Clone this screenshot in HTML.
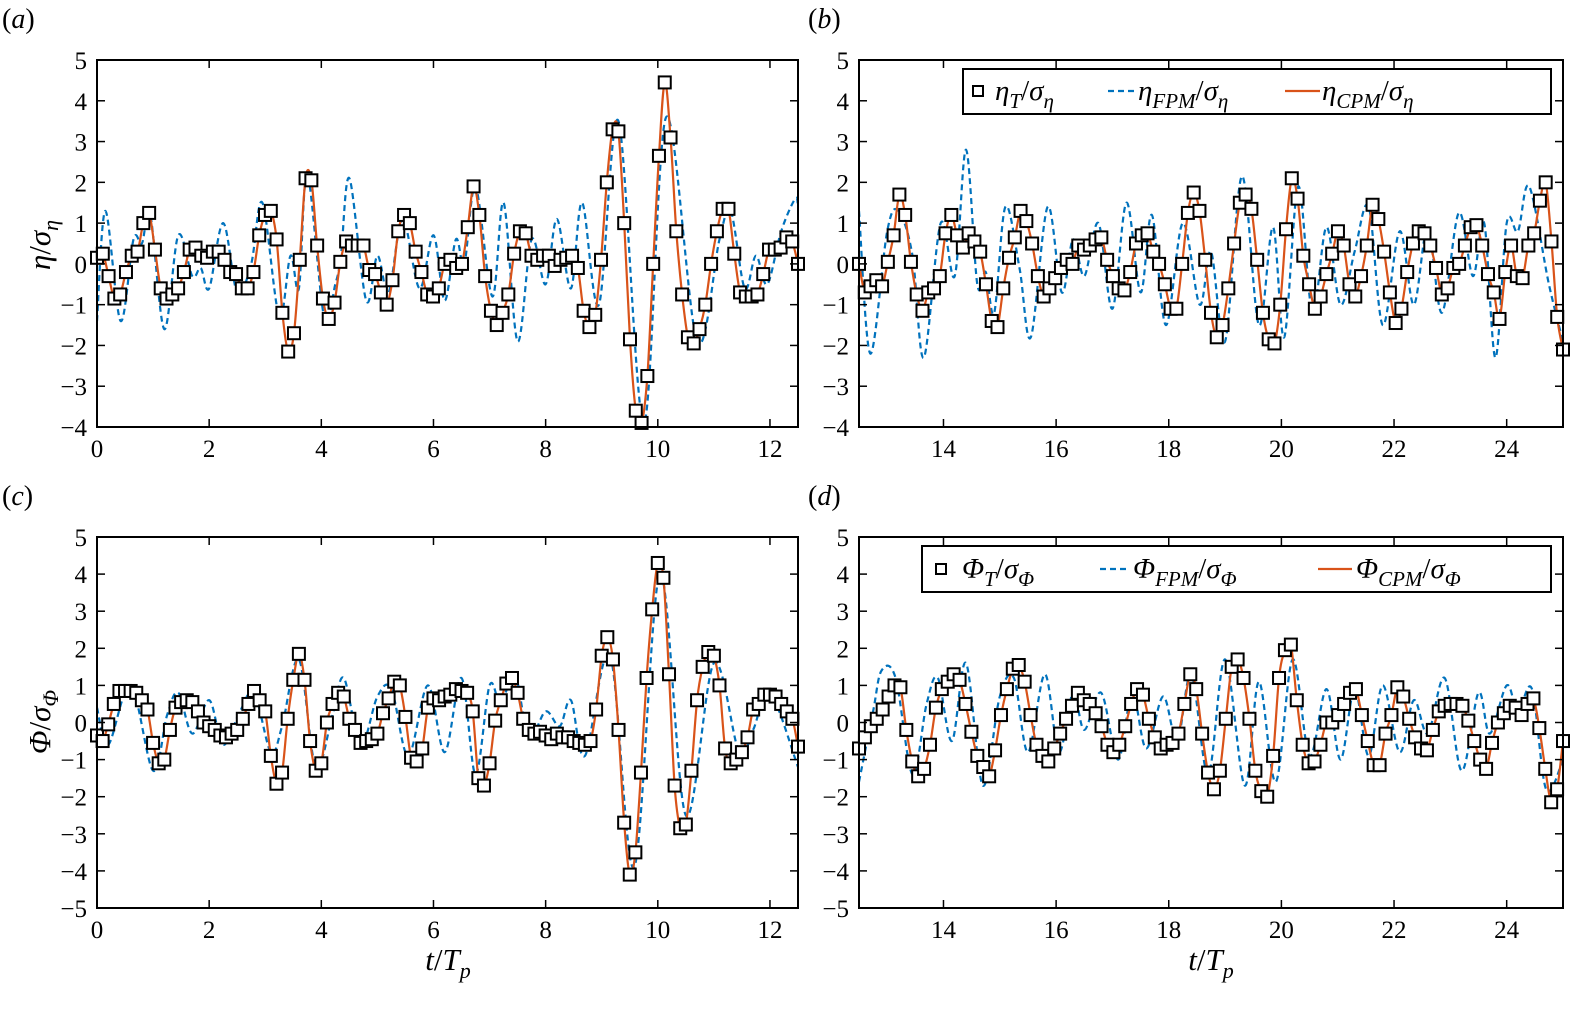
<!DOCTYPE html>
<html><head><meta charset="utf-8"><style>
body{margin:0;background:#fff}
svg{display:block}
text{font-family:"Liberation Serif","Times New Roman",serif}
</style></head><body>
<svg id="fig" width="1581" height="1011" viewBox="0 0 1581 1011" xmlns="http://www.w3.org/2000/svg" style="position:absolute;left:0;top:0"></svg>
<script>
// ---- data ----
const aSquares=[0.15,0.25,-0.3,-0.85,-0.75,-0.2,0.2,0.3,1.0,1.25,0.35,-0.6,-0.85,-0.75,-0.6,-0.2,0.35,0.4,0.2,0.15,0.3,0.3,0.1,-0.2,-0.25,-0.6,-0.6,-0.2,0.7,1.2,1.3,0.6,-1.2,-2.15,-1.7,0.1,2.1,2.05,0.45,-0.85,-1.35,-0.95,0.05,0.55,0.45,0.45,0.45,-0.15,-0.25,-0.7,-1.0,-0.4,0.8,1.2,1.0,0.3,-0.2,-0.75,-0.8,-0.6,0.0,0.1,-0.1,0.0,0.9,1.9,1.2,-0.3,-1.15,-1.5,-1.2,-0.75,0.25,0.8,0.75,0.2,0.1,0.2,0.2,-0.05,0.1,0.15,0.2,-0.1,-1.15,-1.55,-1.25,0.1,2.0,3.3,3.25,1.0,-1.85,-3.6,-3.9,-2.75,0.0,2.65,4.45,3.1,0.8,-0.75,-1.8,-1.95,-1.6,-1.0,0.0,0.8,1.35,1.35,0.25,-0.7,-0.8,-0.8,-0.75,-0.25,0.35,0.35,0.4,0.65,0.55,0.0];
const aFpmT=[0,0.15,0.42,0.65,0.8,0.95,1.2,1.45,1.7,1.85,2.0,2.25,2.5,2.75,2.95,3.25,3.45,3.6,3.75,4.05,4.25,4.35,4.5,4.8,5.0,5.2,5.45,5.75,6.0,6.2,6.4,6.55,6.75,7.05,7.25,7.5,7.75,8.0,8.2,8.45,8.65,8.95,9.3,9.75,10.15,10.7,11.1,11.3,11.55,11.75,11.95,12.2,12.45,12.5];
const aFpmV=[-1.4,1.3,-1.4,0.6,0.5,1.2,-1.6,0.7,-0.3,-0.1,-0.6,1.0,-0.7,0.0,1.5,-1.3,0.2,-0.6,2.2,-1.3,-0.5,0.2,2.1,-0.9,0.2,-0.7,1.1,-0.6,0.7,-0.9,0.6,0.0,1.9,-0.8,1.5,-1.9,0.6,-0.5,1.1,-0.6,1.5,-1.0,3.5,-3.9,3.6,-1.9,0.6,1.3,-0.6,0.2,-0.5,0.8,1.6,1.4];

const bSquares=[0.0,-0.7,-0.55,-0.4,-0.55,0.05,0.7,1.7,1.2,0.05,-0.75,-1.15,-0.7,-0.6,-0.3,0.75,1.2,0.7,0.4,0.75,0.55,0.3,-0.5,-1.4,-1.55,-0.6,0.15,0.65,1.3,1.05,0.5,-0.3,-0.8,-0.6,-0.35,-0.1,0.1,0.0,0.45,0.35,0.45,0.6,0.65,0.1,-0.3,-0.6,-0.65,-0.2,0.5,0.7,0.75,0.3,0.0,-0.5,-1.1,-1.1,0.0,1.25,1.75,1.3,0.1,-1.2,-1.8,-1.5,-0.6,0.5,1.5,1.7,1.35,0.1,-1.2,-1.85,-1.95,-1.0,0.85,2.1,1.6,0.2,-0.5,-1.1,-0.8,-0.25,0.25,0.8,0.45,-0.5,-0.8,-0.3,0.45,1.45,1.1,0.3,-0.7,-1.45,-1.1,-0.2,0.5,0.8,0.75,0.45,-0.1,-0.75,-0.6,-0.1,0.0,0.45,0.9,0.95,0.45,-0.25,-0.7,-1.35,-0.2,0.45,-0.3,-0.35,0.45,0.75,1.55,2.0,0.55,-1.3,-2.1];
const bFpmT=[12.5,12.7,13.0,13.2,13.45,13.65,13.95,14.2,14.4,14.6,14.75,14.9,15.1,15.35,15.55,15.85,16.1,16.3,16.5,16.75,17.0,17.25,17.5,17.7,17.95,18.25,18.55,18.75,19.0,19.3,19.6,19.85,20.05,20.3,20.55,20.8,21.05,21.3,21.55,21.8,22.1,22.35,22.6,22.85,23.15,23.4,23.6,23.8,24.0,24.2,24.4,24.75,25];
const bFpmV=[1.3,-2.2,0.8,1.3,0.2,-2.3,1.0,-0.3,2.8,-0.5,-0.2,-1.2,1.4,-0.1,-1.8,1.4,-0.7,0.6,-0.3,1.0,-1.1,1.5,-0.7,1.2,-1.5,1.0,-1.0,0.3,-1.9,2.15,-1.5,0.9,-1.8,1.9,-1.2,0.9,-1.0,0.3,1.4,-1.5,0.8,-1.0,0.9,-1.2,1.25,-0.3,1.0,-2.3,1.0,0.8,1.9,-0.5,-1.9];

const cSquares=[-0.35,-0.5,-0.05,0.5,0.85,0.85,0.85,0.8,0.6,0.35,-0.55,-1.1,-1.0,-0.2,0.4,0.55,0.6,0.55,0.3,0.0,-0.1,-0.2,-0.35,-0.4,-0.3,-0.2,0.1,0.5,0.85,0.6,0.3,-0.9,-1.65,-1.35,0.1,1.15,1.85,1.15,-0.5,-1.3,-1.1,0.0,0.5,0.8,0.7,0.1,-0.2,-0.55,-0.5,-0.45,-0.3,0.25,0.65,1.1,1.0,0.15,-0.95,-1.05,-0.7,0.4,0.65,0.6,0.7,0.75,0.9,0.85,0.8,0.3,-1.5,-1.7,-1.1,0.05,0.6,1.05,1.2,0.8,0.1,-0.2,-0.3,-0.25,-0.35,-0.45,-0.3,-0.4,-0.4,-0.5,-0.55,-0.6,-0.5,0.35,1.8,2.3,1.7,-0.2,-2.7,-4.1,-3.5,-1.35,1.2,3.05,4.3,3.9,1.3,-1.7,-2.85,-2.75,-1.3,0.6,1.5,1.9,1.8,1.0,-0.7,-1.1,-1.0,-0.8,-0.4,0.35,0.5,0.75,0.75,0.7,0.5,0.3,0.1,-0.65];
const cFpmT=[0,0.2,0.6,1.0,1.25,1.45,1.7,2.0,2.25,2.55,2.8,3.1,3.3,3.6,3.9,4.2,4.4,4.7,5.0,5.25,5.55,5.9,6.2,6.5,6.75,7.0,7.2,7.45,7.7,8.0,8.25,8.45,8.7,9.15,9.58,10.04,10.5,11.0,11.45,11.7,12.0,12.5];
const cFpmV=[0.4,-0.6,1.0,-1.3,0.2,0.8,-0.3,0.6,-0.6,0.3,0.8,-0.8,-0.1,1.7,-1.2,0.2,1.2,-0.6,0.7,0.9,-0.9,1.0,-0.8,1.2,-1.4,1.0,0.5,1.3,-0.4,0.3,-0.1,0.6,-0.9,1.8,-3.9,4.0,-2.5,1.6,-0.8,-0.2,0.8,-1.2];

const dSquares=[-0.7,-0.4,-0.1,0.1,0.35,0.7,1.0,0.95,-0.2,-1.05,-1.45,-1.25,-0.6,0.4,0.9,1.1,1.3,1.15,0.5,-0.25,-0.9,-1.2,-1.45,-0.75,0.2,0.9,1.45,1.55,1.1,0.2,-0.6,-0.9,-1.05,-0.7,-0.3,0.1,0.45,0.8,0.6,0.5,0.25,-0.1,-0.6,-0.8,-0.6,-0.1,0.5,0.9,0.75,0.1,-0.4,-0.7,-0.6,-0.55,-0.3,0.5,1.3,0.9,-0.3,-1.35,-1.8,-1.3,0.1,1.5,1.7,1.2,0.1,-1.3,-1.85,-2.0,-0.9,1.2,1.95,2.1,0.6,-0.6,-1.1,-1.05,-0.6,0.0,0.0,0.2,0.5,0.8,0.9,0.2,-0.5,-1.15,-1.15,-0.3,0.2,0.95,0.7,0.1,-0.4,-0.7,-0.75,-0.2,0.3,0.45,0.5,0.5,0.45,0.05,-0.5,-1.0,-1.25,-0.55,0.0,0.25,0.45,0.4,0.2,0.5,0.65,-0.15,-1.25,-2.15,-1.8,-0.5];
const dFpmT=[12.5,12.75,12.9,13.15,13.45,13.7,13.9,14.15,14.4,14.7,15.0,15.25,15.5,15.8,16.05,16.3,16.5,16.8,17.1,17.35,17.6,17.9,18.15,18.4,18.7,19.0,19.35,19.6,19.9,20.2,20.5,20.8,21.05,21.3,21.55,21.8,22.1,22.35,22.6,22.9,23.2,23.5,23.7,24.0,24.2,24.45,24.7,25];
const dFpmV=[-1.6,0.3,1.4,1.2,-1.4,0.5,1.2,-0.5,1.6,-1.7,0.7,1.2,-0.8,1.3,-0.8,0.8,-0.2,0.8,-1.0,0.8,-0.7,0.7,-0.5,1.3,-1.4,1.7,-1.7,1.1,-1.6,1.7,-0.9,0.9,-1.0,0.9,-0.9,1.0,-0.8,0.6,-0.3,1.2,-1.3,0.8,-0.3,1.0,0.3,0.9,-1.8,-1.0];

const xTicksA=[0,2,4,6,8,10,12];
const xTicksB=[14,16,18,20,22,24];
const yTicksTop=[-4,-3,-2,-1,0,1,2,3,4,5];
const yTicksBot=[-5,-4,-3,-2,-1,0,1,2,3,4,5];

// ---- drawing ----
const NS="http://www.w3.org/2000/svg";
const svg=document.getElementById('fig');
const FONT='"Liberation Serif","Times New Roman",serif';
function el(tag,attrs,parent){const e=document.createElementNS(NS,tag);for(const k in attrs)e.setAttribute(k,attrs[k]);(parent||svg).appendChild(e);return e;}
function smooth(pts){
  let d=`M${pts[0][0].toFixed(1)},${pts[0][1].toFixed(1)}`;
  for(let i=0;i<pts.length-1;i++){
    const p0=pts[Math.max(0,i-1)],p1=pts[i],p2=pts[i+1],p3=pts[Math.min(pts.length-1,i+2)];
    const c1=[p1[0]+(p2[0]-p0[0])/6,p1[1]+(p2[1]-p0[1])/6];
    const c2=[p2[0]-(p3[0]-p1[0])/6,p2[1]-(p3[1]-p1[1])/6];
    d+=`C${c1[0].toFixed(1)},${c1[1].toFixed(1)} ${c2[0].toFixed(1)},${c2[1].toFixed(1)} ${p2[0].toFixed(1)},${p2[1].toFixed(1)}`;
  }
  return d;
}
function panel(cfg){
  const {id,x0,x1,y0,y1,tmin,tmax,vmin,vmax,squares,fT,fV,xt,yt}=cfg;
  const g=el('g',{});
  
  
  const X=t=>x0+(t-tmin)/(tmax-tmin)*(x1-x0);
  const Y=v=>y1-(v-vmin)/(vmax-vmin)*(y1-y0);
  const clip=el('clipPath',{id:'clip'+id},g);
  el('rect',{x:x0,y:y0,width:x1-x0,height:y1-y0},clip);
  const plot=el('g',{'clip-path':`url(#clip${id})`},g);
  const bp=el('path',{d:smooth(fT.map((t,i)=>[X(t),Y(fV[i])])),fill:'none',stroke:'#0072bd','stroke-width':2.2,'stroke-dasharray':'6,4'},plot);
  
  
  const n=squares.length;
  const st=i=>tmin+i*(tmax-tmin)/(n-1);
  const rp=el('path',{d:smooth(squares.map((v,i)=>[X(st(i)),Y(v)])),fill:'none',stroke:'#d95319','stroke-width':2.2},plot);
  
  
  squares.forEach((v,i)=>{
    const r=el('rect',{x:X(st(i))-6,y:Y(v)-6,width:12,height:12,fill:'#fff',stroke:'#000','stroke-width':2},g);
    
    
  });
  const fr=el('rect',{x:x0,y:y0,width:x1-x0,height:y1-y0,fill:'none',stroke:'#000','stroke-width':2},g);
  
  
  xt.forEach(t=>{
    const x=X(t);
    el('line',{x1:x,x2:x,y1:y1,y2:y1-8,stroke:'#000','stroke-width':1.5},g);
    el('line',{x1:x,x2:x,y1:y0,y2:y0+8,stroke:'#000','stroke-width':1.5},g);
    const tx=el('text',{x:x,y:y1+30,'text-anchor':'middle','font-size':25,'font-family':FONT},g);
    tx.textContent=t;
    
    
  });
  yt.forEach(v=>{
    const y=Y(v);
    el('line',{x1:x0,x2:x0+8,y1:y,y2:y,stroke:'#000','stroke-width':1.5},g);
    el('line',{x1:x1,x2:x1-8,y1:y,y2:y,stroke:'#000','stroke-width':1.5},g);
    const tx=el('text',{x:x0-10,y:y+9,'text-anchor':'end','font-size':25,'font-family':FONT},g);
    tx.textContent=v<0?'\u2212'+(-v):v;
    
    
  });
}
panel({id:'a',x0:97,x1:798,y0:60,y1:427,tmin:0,tmax:12.5,vmin:-4,vmax:5,squares:aSquares,fT:aFpmT,fV:aFpmV,xt:xTicksA,yt:yTicksTop});
panel({id:'b',x0:859,x1:1563,y0:60,y1:427,tmin:12.5,tmax:25,vmin:-4,vmax:5,squares:bSquares,fT:bFpmT,fV:bFpmV,xt:xTicksB,yt:yTicksTop});
panel({id:'c',x0:97,x1:798,y0:537,y1:908,tmin:0,tmax:12.5,vmin:-5,vmax:5,squares:cSquares,fT:cFpmT,fV:cFpmV,xt:xTicksA,yt:yTicksBot});
panel({id:'d',x0:859,x1:1563,y0:537,y1:908,tmin:12.5,tmax:25,vmin:-5,vmax:5,squares:dSquares,fT:dFpmT,fV:dFpmV,xt:xTicksB,yt:yTicksBot});
</script>
<svg width="1581" height="1011" style="position:absolute;left:0;top:0;pointer-events:none" font-family="'Liberation Serif','Times New Roman',serif" font-style="italic">
  <text x="2" y="28" font-size="28"><tspan font-style="normal">(</tspan>a<tspan font-style="normal">)</tspan></text>
  <text x="808" y="28" font-size="28"><tspan font-style="normal">(</tspan>b<tspan font-style="normal">)</tspan></text>
  <text x="2" y="505" font-size="28"><tspan font-style="normal">(</tspan>c<tspan font-style="normal">)</tspan></text>
  <text x="808" y="505" font-size="28"><tspan font-style="normal">(</tspan>d<tspan font-style="normal">)</tspan></text>
  <text transform="translate(50,245) rotate(-90)" text-anchor="middle" font-size="31">η<tspan font-style="normal">/</tspan>σ<tspan font-size="22" dy="8">η</tspan></text>
  <text transform="translate(50,722) rotate(-90)" text-anchor="middle" font-size="31">Φ<tspan font-style="normal">/</tspan>σ<tspan font-size="22" dy="8">Φ</tspan></text>
  <text x="448" y="970" text-anchor="middle" font-size="31">t<tspan font-style="normal">/</tspan>T<tspan font-size="22" dy="8">p</tspan></text>
  <text x="1211" y="970" text-anchor="middle" font-size="31">t<tspan font-style="normal">/</tspan>T<tspan font-size="22" dy="8">p</tspan></text>
  <g>
    <rect x="963" y="69" width="588" height="45" fill="#fff" stroke="#000" stroke-width="2"/>
    <rect x="973" y="86" width="10" height="10" fill="#fff" stroke="#000" stroke-width="2"/>
    <text x="995" y="100" font-size="29">η<tspan font-size="21" dy="8">T</tspan><tspan dy="-8" font-style="normal">/</tspan>σ<tspan font-size="21" dy="8">η</tspan></text>
    <line x1="1108" y1="91" x2="1137" y2="91" stroke="#0072bd" stroke-width="2.2" stroke-dasharray="6,4"/>
    <text x="1138" y="100" font-size="29">η<tspan font-size="21" dy="8">FPM</tspan><tspan dy="-8" font-style="normal">/</tspan>σ<tspan font-size="21" dy="8">η</tspan></text>
    <line x1="1285" y1="91" x2="1320" y2="91" stroke="#d95319" stroke-width="2.2"/>
    <text x="1322" y="100" font-size="29">η<tspan font-size="21" dy="8">CPM</tspan><tspan dy="-8" font-style="normal">/</tspan>σ<tspan font-size="21" dy="8">η</tspan></text>
  </g>
  <g>
    <rect x="922" y="546" width="629" height="46" fill="#fff" stroke="#000" stroke-width="2"/>
    <rect x="936" y="564" width="10" height="10" fill="#fff" stroke="#000" stroke-width="2"/>
    <text x="962" y="578" font-size="29">Φ<tspan font-size="21" dy="8">T</tspan><tspan dy="-8" font-style="normal">/</tspan>σ<tspan font-size="21" dy="8">Φ</tspan></text>
    <line x1="1100" y1="569" x2="1130" y2="569" stroke="#0072bd" stroke-width="2.2" stroke-dasharray="6,4"/>
    <text x="1133" y="578" font-size="29">Φ<tspan font-size="21" dy="8">FPM</tspan><tspan dy="-8" font-style="normal">/</tspan>σ<tspan font-size="21" dy="8">Φ</tspan></text>
    <line x1="1318" y1="569" x2="1352" y2="569" stroke="#d95319" stroke-width="2.2"/>
    <text x="1356" y="578" font-size="29">Φ<tspan font-size="21" dy="8">CPM</tspan><tspan dy="-8" font-style="normal">/</tspan>σ<tspan font-size="21" dy="8">Φ</tspan></text>
  </g>
</svg>
</body></html>
